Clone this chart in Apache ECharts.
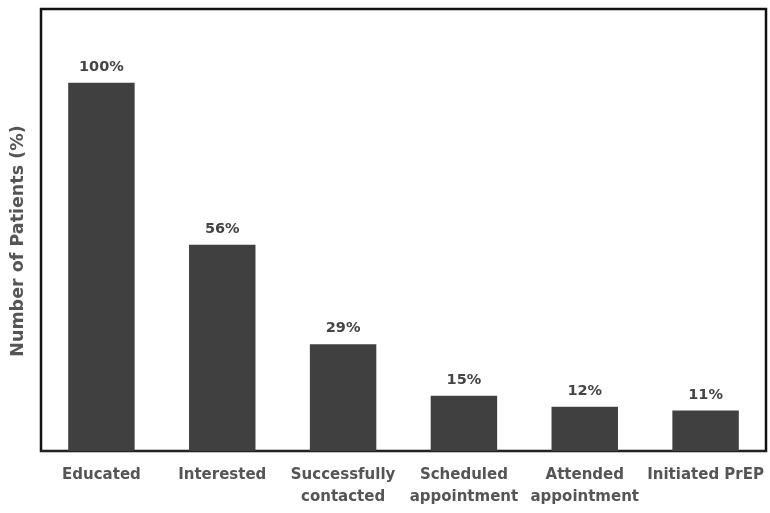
<!DOCTYPE html>
<html>
<head>
<meta charset="utf-8">
<script src="https://cdn.jsdelivr.net/npm/echarts@6/dist/echarts.min.js"></script>
<style>
  html, body { margin: 0; padding: 0; background: #fff; }
  #main { width: 770px; height: 513px; }
</style>
</head>
<body>
<div id="main"></div>
<script>
// categories and values
var categories = ['Educated', 'Interested', 'Successfully\ncontacted', 'Scheduled\nappointment', 'Attended\nappointment', 'Initiated PrEP'];
var percents = [100, 56, 29, 15, 12, 11];

var chart = echarts.init(document.getElementById('main'));

chart.setOption({
  animation: false,
  textStyle: { fontFamily: 'DejaVu Sans, Arial, sans-serif' },
  grid: {
    show: true,
    left: 41,
    right: 4,
    top: 9,
    bottom: 62,
    outerBoundsMode: 'none',
    borderColor: '#111',
    borderWidth: 2.5,
    backgroundColor: '#fff'
  },
  xAxis: {
    type: 'category',
    data: categories,
    axisLine: { show: true, lineStyle: { color: '#222', width: 2 } },
    axisTick: { show: false },
    axisLabel: {
      color: '#555',
      fontWeight: 'bold',
      fontSize: 15,
      lineHeight: 22,
      margin: 13,
      interval: 0
    }
  },
  yAxis: {
    type: 'value',
    min: 0,
    max: 120,
    name: 'Number of Patients (%)',
    nameLocation: 'middle',
    nameGap: 14,
    nameTextStyle: { color: '#555', fontWeight: 'bold', fontSize: 17.5, padding: [0, 22, 0, 0] },
    axisLine: { show: false },
    axisTick: { show: false },
    axisLabel: { show: false },
    splitLine: { show: false }
  },
  series: [{
    type: 'bar',
    data: percents,
    barWidth: '55%',
    itemStyle: { color: '#404040' },
    label: {
      show: true,
      position: 'top',
      distance: 8,
      formatter: '{c}%',
      color: '#444',
      fontWeight: 'bold',
      fontSize: 14.5
    }
  }]
});
</script>
</body>
</html>
